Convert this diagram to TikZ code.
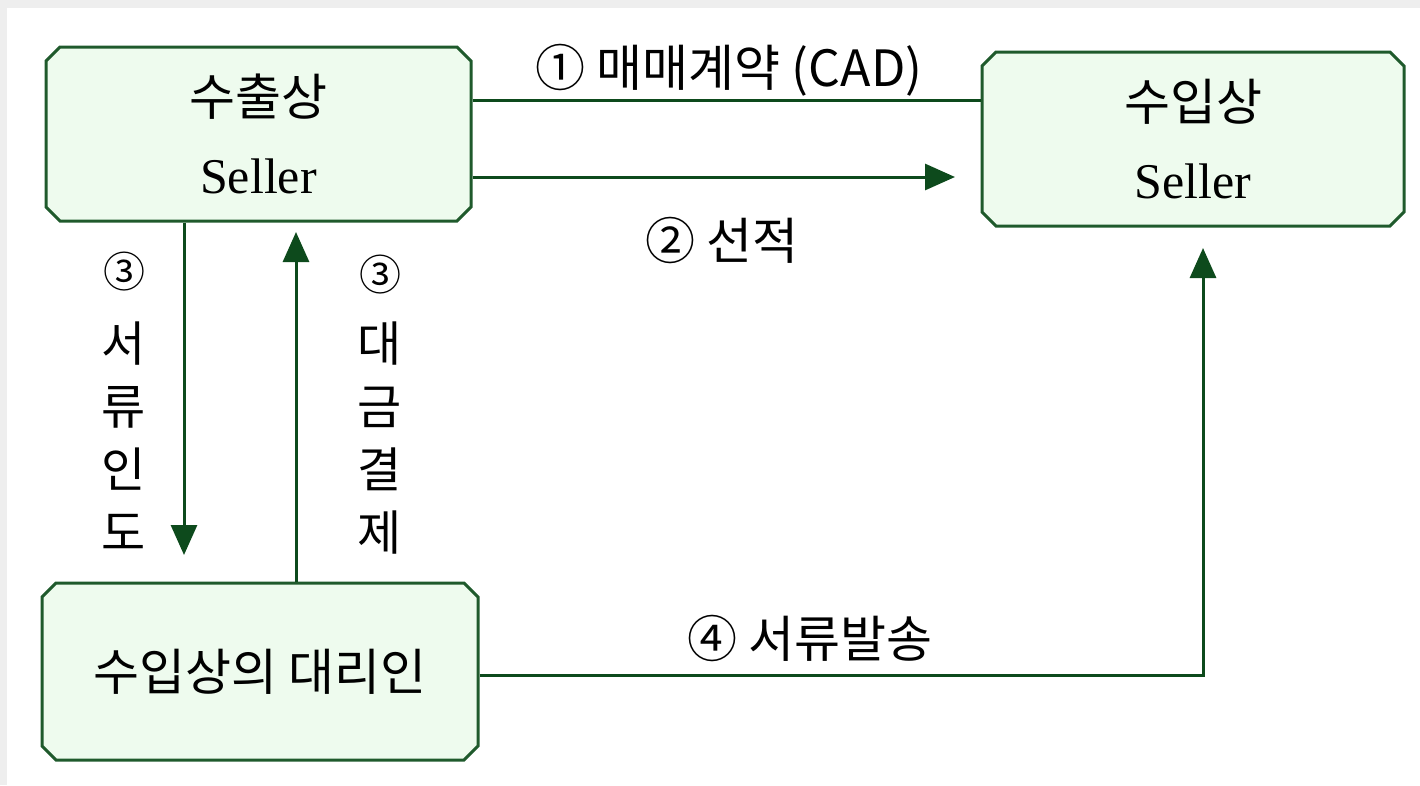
\documentclass[tikz,border=0pt]{standalone}
\usepackage{fontspec}
\setmainfont{Noto Sans CJK KR}
\newfontfamily\serifseller{Liberation Serif}
\usetikzlibrary{arrows.meta,shapes.misc}

\definecolor{boxline}{HTML}{1F5A2C}
\definecolor{boxfill}{HTML}{EEFBEE}
\definecolor{arrowgreen}{HTML}{0D4A1C}
\definecolor{framegray}{HTML}{EEEEEE}

\tikzset{
    party/.style={chamfered rectangle, chamfered rectangle xsep=7pt,
        chamfered rectangle ysep=7pt, draw=boxline, fill=boxfill,
        line width=3pt, inner sep=0pt, align=center,
        font=\fontsize{50}{78}\selectfont},
    flow/.style={draw=arrowgreen, line width=3pt},
    flowarr/.style={flow, -{Triangle[width=26pt,length=30pt]}},
    lbl/.style={inner sep=0pt, font=\fontsize{50}{60}\selectfont},
    circ/.style={inner sep=0pt, font=\fontsize{42}{48}\selectfont},
    vlbl/.style={inner sep=0pt, align=center, font=\fontsize{48}{63}\selectfont}
}

\begin{document}
\begin{tikzpicture}[x=1pt, y=-1pt]
    \useasboundingbox (0,0) rectangle (1420,785);
    % gray frame
    \fill[framegray] (0,0) rectangle (1420,8);
    \fill[framegray] (0,0) rectangle (7,785);

    % parties
    \node[party, minimum width=425pt, minimum height=174pt] (exporter) at (258.5,134)
        {수출상\\{\serifseller\fontsize{50}{78}\selectfont Seller}};
    \node[party, minimum width=422pt, minimum height=174pt] (importer) at (1193,139)
        {수입상\\{\serifseller\fontsize{50}{78}\selectfont Seller}};
    \node[party, minimum width=436pt, minimum height=177pt] (agent) at (260,671.5)
        {수입상의 대리인};

    % free ends
    \coordinate (shipend) at (955,177);
    \coordinate (handover) at (184,555);
    \coordinate (payend) at (296,232);
    \coordinate (mailend) at (1203,248);

    % flows
    \draw[flow] (exporter.east |- 0,100) -- (importer.west |- 0,100);
    \draw[flowarr] (exporter.east |- shipend) -- (shipend);
    \draw[flowarr] (exporter.south -| handover) -- (handover);
    \draw[flowarr] (agent.north -| payend) -- (payend);
    \draw[flowarr] (agent.east |- 0,675) -| (mailend);

    % labels
    \node[lbl] (contract) at (729,70) {① 매매계약 (CAD)};
    \node[lbl] (shipping) at (722,240) {② 선적};
    \node[lbl] (mailing) at (810,638) {④ 서류발송};
    \node[circ] (stepdocs) at (124,272) {③};
    \node[vlbl, anchor=north] (docs) at (124,322) {서\\류\\인\\도};
    \node[circ] (steppay) at (380,275) {③};
    \node[vlbl, anchor=north] (pay) at (380,322) {대\\금\\결\\제};
\end{tikzpicture}
\end{document}
